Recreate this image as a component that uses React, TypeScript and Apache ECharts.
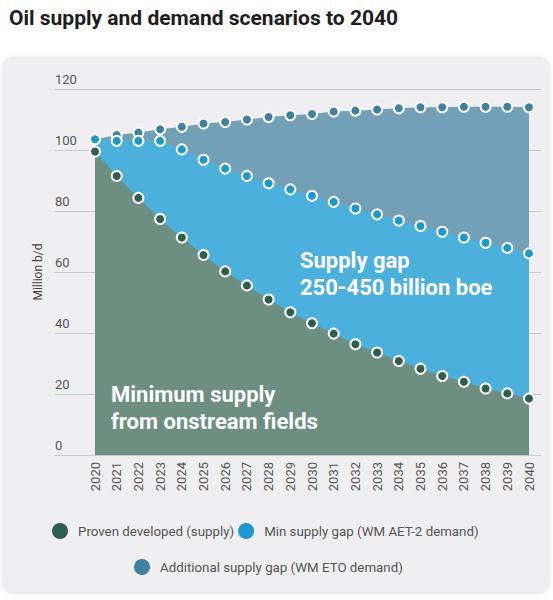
import { useEffect, useRef } from 'react';
import * as echarts from 'echarts';

// 年份
const years = [
  '2020', '2021', '2022', '2023', '2024', '2025', '2026', '2027', '2028', '2029', '2030',
  '2031', '2032', '2033', '2034', '2035', '2036', '2037', '2038', '2039', '2040'
];

// Proven developed (supply)
const provenDeveloped = [
  99.5, 91.5, 84.3, 77.4, 71.3, 65.6, 60.2, 55.6, 51.0, 46.8, 43.2,
  39.8, 36.3, 33.6, 30.8, 28.3, 25.9, 24.0, 21.8, 20.2, 18.5
];

// Min supply gap (WM AET-2 demand)
const aet2Demand = [
  103.5, 103.0, 103.0, 103.0, 100.2, 96.8, 93.9, 91.5, 89.1, 87.1, 85.0,
  83.0, 80.8, 78.9, 76.9, 75.1, 73.2, 71.3, 69.6, 67.9, 66.1
];

// Additional supply gap (WM ETO demand)
const etoDemand = [
  103.5, 104.9, 105.7, 106.8, 107.6, 108.7, 109.2, 110.0, 110.8, 111.4, 111.8,
  112.6, 112.9, 113.3, 113.7, 114.0, 114.0, 114.2, 114.2, 114.2, 114.0
];

const yTicks = { min: 0, max: 120, interval: 20 };

const names = {
  proven: 'Proven developed (supply)',
  aet2: 'Min supply gap (WM AET-2 demand)',
  eto: 'Additional supply gap (WM ETO demand)'
};

const FONT = 'Roboto';

function areaSeries(name: string, data: number[], area: string, dot: string) {
  return {
    name,
    type: 'line',
    data,
    xAxisIndex: 0,
    yAxisIndex: 0,
    symbol: 'circle',
    symbolSize: 10,
    showSymbol: true,
    lineStyle: { width: 0, color: area },
    areaStyle: { color: area, opacity: 1 },
    itemStyle: { color: dot, borderColor: '#fff', borderWidth: 2 }
  };
}

export default function App() {
  const chartRef = useRef<HTMLDivElement>(null);

  useEffect(() => {
    if (!chartRef.current) return;
    document.body.style.margin = '0';
    const chart = echarts.init(chartRef.current, null, { renderer: 'svg' });

    const option: any = {
      animation: false,
      textStyle: { fontFamily: FONT },
      title: {
        text: 'Oil supply and demand scenarios to 2040',
        left: 4,
        top: 2,
        textStyle: { fontSize: 21, fontWeight: 'bold', color: '#1d1d1d', fontFamily: FONT }
      },
      graphic: [
        {
          type: 'rect',
          z: -10,
          shape: { x: 3, y: 57, width: 546, height: 535, r: 9 },
          style: {
            fill: '#efeff1',
            shadowBlur: 4,
            shadowOffsetY: 1,
            shadowColor: 'rgba(0,0,0,0.15)'
          }
        },
        {
          type: 'text',
          z: 100,
          x: 300,
          y: 247,
          style: {
            text: 'Supply gap\n250-450 billion boe',
            fill: '#fff',
            font: `bold 22px ${FONT}`,
            lineHeight: 27
          }
        },
        {
          type: 'text',
          z: 100,
          x: 111,
          y: 381,
          style: {
            text: 'Minimum supply\nfrom onstream fields',
            fill: '#fff',
            font: `bold 22px ${FONT}`,
            lineHeight: 27
          }
        }
      ],
      legend: [
        {
          data: [names.proven, names.aet2],
          left: 47,
          top: 518,
          icon: 'circle',
          itemWidth: 26,
          itemHeight: 16,
          itemGap: 4,
          itemStyle: { borderWidth: 0 },
          textStyle: { fontSize: 13.3, color: '#555', fontFamily: FONT }
        },
        {
          data: [names.eto],
          left: 129,
          top: 554,
          icon: 'circle',
          itemWidth: 26,
          itemHeight: 16,
          itemStyle: { borderWidth: 0 },
          textStyle: { fontSize: 13.3, color: '#555', fontFamily: FONT }
        }
      ],
      grid: [
        { left: 95, right: 24, top: 89, bottom: 145 },
        { left: 54, right: 12, top: 89, bottom: 145 }
      ],
      xAxis: [
        {
          type: 'category',
          gridIndex: 0,
          data: years,
          boundaryGap: false,
          axisLine: { show: false },
          axisTick: { show: false },
          splitLine: { show: false },
          axisLabel: { rotate: 90, fontSize: 13, color: '#555', margin: 7, fontFamily: FONT }
        },
        { type: 'value', gridIndex: 1, show: false }
      ],
      yAxis: [
        {
          type: 'value',
          gridIndex: 0,
          min: yTicks.min,
          max: yTicks.max,
          interval: yTicks.interval,
          show: false
        },
        {
          type: 'value',
          gridIndex: 1,
          min: yTicks.min,
          max: yTicks.max,
          interval: yTicks.interval,
          z: 3,
          name: 'Million b/d',
          nameLocation: 'middle',
          nameGap: 10,
          nameTextStyle: { fontSize: 12, color: '#444', fontFamily: FONT },
          axisLine: { show: false },
          axisTick: { show: false },
          splitLine: { show: true, lineStyle: { color: 'rgba(0,0,0,0.15)', width: 1 } },
          axisLabel: {
            inside: true,
            margin: 1,
            verticalAlign: 'bottom',
            padding: [0, 0, 3, 0],
            fontSize: 13,
            color: '#555',
            fontFamily: FONT
          }
        }
      ],
      series: [
        areaSeries(names.eto, etoDemand, '#72a1b7', '#3f819e'),
        areaSeries(names.aet2, aet2Demand, '#4cb0dc', '#1c98cf'),
        areaSeries(names.proven, provenDeveloped, '#6c8f82', '#2e5e4e')
      ]
    };

    chart.setOption(option);

    return () => {
      chart.dispose();
    };
  }, []);

  return <div ref={chartRef} style={{ width: 553, height: 600 }} />;
}
